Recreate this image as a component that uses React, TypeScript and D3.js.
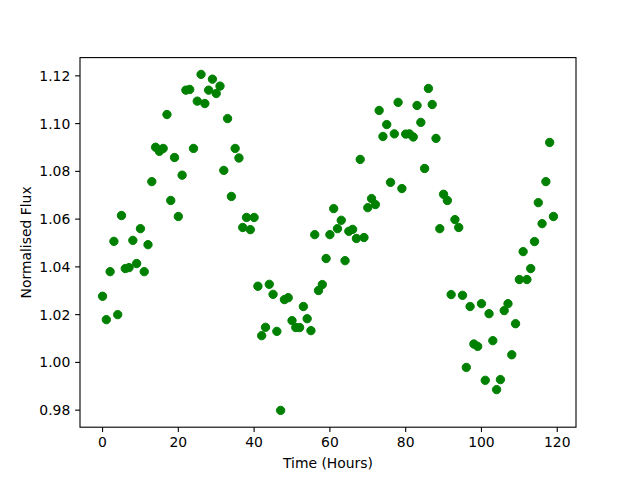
import React from "react";
import * as d3 from "d3";

const hours: number[] = Array.from({ length: 120 }, (_, i) => i);
const flux: number[] = [
  1.0277, 1.0179, 1.038, 1.0507, 1.02, 1.0615, 1.0393, 1.0397, 1.0511, 1.0414,
  1.056, 1.038, 1.0493, 1.0757, 1.0901, 1.0884, 1.0896, 1.1038, 1.0678, 1.0858,
  1.0611, 1.0784, 1.114, 1.1143, 1.0896, 1.1094, 1.1206, 1.1084, 1.114, 1.1186,
  1.1126, 1.1157, 1.0804, 1.1021, 1.0695, 1.0896, 1.0856, 1.0565, 1.0607, 1.0556,
  1.0607, 1.0319, 1.0112, 1.0147, 1.0327, 1.0285, 1.013, 0.9799, 1.0263, 1.0271,
  1.0175, 1.0146, 1.0146, 1.0234, 1.0183, 1.0133, 1.0535, 1.0301, 1.0326, 1.0435,
  1.0535, 1.0644, 1.056, 1.0595, 1.0426, 1.0549, 1.0557, 1.0519, 1.085, 1.0523,
  1.0648, 1.0686, 1.0661, 1.1055, 1.0946, 1.0996, 1.0754, 1.0957, 1.1089, 1.0728,
  1.0956, 1.0957, 1.0944, 1.1076, 1.1005, 1.0812, 1.1147, 1.108, 1.0938, 1.056,
  1.0704, 1.0678, 1.0284, 1.0598, 1.0565, 1.0281, 0.9979, 1.0234, 1.0077, 1.0067,
  1.0246, 0.9925, 1.0204, 1.0091, 0.9886, 0.9928, 1.0217, 1.0246, 1.0032, 1.0162,
  1.0347, 1.0464, 1.0347, 1.0393, 1.0506, 1.0669, 1.0581, 1.0757, 1.0921, 1.0611,
];
const xTicks: number[] = [0, 20, 40, 60, 80, 100, 120];
const yTicks: number[] = [0.98, 1.0, 1.02, 1.04, 1.06, 1.08, 1.1, 1.12];
const xLabel = "Time (Hours)";
const yLabel = "Normalised Flux";

export default function App() {
  const W = 640, H = 480;
  const L = 80, R = 576, T = 57.6, B = 427.2;
  const xMin = d3.min(hours)!, xMax = d3.max(hours)!;
  const yMin = d3.min(flux)!, yMax = d3.max(flux)!;
  const xm = (xMax - xMin) * 0.05, ym = (yMax - yMin) * 0.05;
  const x = d3.scaleLinear().domain([xMin - xm, xMax + xm]).range([L, R]);
  const y = d3.scaleLinear().domain([yMin - ym, yMax + ym]).range([B, T]);
  const font = "DejaVu Sans, sans-serif";
  const tickLen = 4.86;
  return (
    <svg width={W} height={H} style={{ position: "absolute", left: 0, top: 0, background: "#fff" }}>
      <rect x={0} y={0} width={W} height={H} fill="#fff" />
      {hours.map((h, i) => (
        <circle key={i} cx={x(h)} cy={y(flux[i])} r={4.17} fill="#008000" stroke="#008000" strokeWidth={1} />
      ))}
      <rect x={L} y={T} width={R - L} height={B - T} fill="none" stroke="#000" strokeWidth={1.1} />
      {xTicks.map((t) => (
        <g key={"x" + t}>
          <line x1={x(t)} x2={x(t)} y1={B} y2={B + tickLen} stroke="#000" strokeWidth={1.1} />
          <text x={x(t)} y={446.5} fontFamily={font} fontSize={13.9} textAnchor="middle" fill="#000">
            {t}
          </text>
        </g>
      ))}
      {yTicks.map((t) => (
        <g key={"y" + t}>
          <line x1={L - tickLen} x2={L} y1={y(t)} y2={y(t)} stroke="#000" strokeWidth={1.1} />
          <text x={70.3} y={y(t) + 5} fontFamily={font} fontSize={13.9} textAnchor="end" fill="#000">
            {t.toFixed(2)}
          </text>
        </g>
      ))}
      <text x={(L + R) / 2} y={468} fontFamily={font} fontSize={13.9} textAnchor="middle" fill="#000">
        {xLabel}
      </text>
      <text
        transform={`translate(31,${(T + B) / 2}) rotate(-90)`}
        fontFamily={font}
        fontSize={13.9}
        textAnchor="middle"
        fill="#000"
      >
        {yLabel}
      </text>
    </svg>
  );
}
